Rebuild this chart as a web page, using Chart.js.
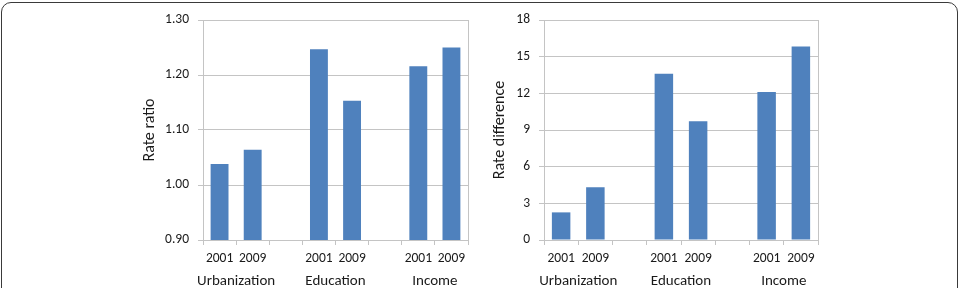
<!DOCTYPE html>
<html>
<head>
<meta charset="utf-8">
<script src="https://cdn.jsdelivr.net/npm/chart.js@4/dist/chart.umd.min.js"></script>
<style>
  html, body { margin: 0; padding: 0; background: #fff; width: 963px; height: 288px; overflow: hidden; }
  #frame { position: absolute; left: 1px; top: 2px; width: 957px; height: 320px; border: 1.5px solid #3a3a3a; border-radius: 10px; box-sizing: border-box; }
  .box { position: absolute; top: 0; width: 350px; height: 288px; }
  #b1 { left: 130px; }
  #b2 { left: 480px; }
</style>
</head>
<body>
<div id="frame"></div>
<div class="box" id="b1"><canvas id="c1" width="350" height="288"></canvas></div>
<div class="box" id="b2"><canvas id="c2" width="350" height="288"></canvas></div>
<script>
// ---- data ----
const yearLabels = ['2001', '2009', '', '2001', '2009', '', '2001', '2009'];
const groupNames = ['Urbanization', 'Education', 'Income'];
const groupCenters = [0.5, 3.5, 6.5];
const rateRatio = [1.038, 1.064, null, 1.247, 1.153, null, 1.216, 1.250];
const rateDifference = [2.26, 4.31, null, 13.6, 9.71, null, 12.11, 15.84];
const ratioTicks = { min: 0.90, max: 1.30, step: 0.10 };
const diffTicks = { min: 0, max: 18, step: 3 };

const FONT = 'Carlito, Lato, "Open Sans", sans-serif';
const BAR = '#4F81BD';
const GRID = '#c4c4c4';
const TXT = '#1a1a1a';

function makeChart(id, values, title, t, yWidth, decimals) {
  return new Chart(document.getElementById(id), {
    type: 'bar',
    data: {
      labels: yearLabels,
      datasets: [{ data: values, backgroundColor: BAR, barPercentage: 0.54, categoryPercentage: 1.0 }]
    },
    options: {
      responsive: false,
      animation: false,
      events: [],
      layout: { padding: { left: 2, right: 12, top: 20, bottom: 0 } },
      plugins: { legend: { display: false }, tooltip: { enabled: false } },
      scales: {
        x: {
          type: 'category',
          position: 'bottom',
          offset: true,
          grid: { display: true, drawOnChartArea: false, drawTicks: true, tickLength: 5, color: GRID, offset: true },
          border: { display: true, color: GRID, width: 1 },
          ticks: { color: TXT, font: { family: FONT, size: 13.5 }, padding: 6, maxRotation: 0, autoSkip: false },
          afterFit: s => { s.height = 28; }
        },
        x2: {
          type: 'linear',
          position: 'bottom',
          offset: false,
          bounds: 'data',
          min: -0.5, max: 7.5,
          grid: { display: false, drawTicks: false, offset: false },
          border: { display: false },
          afterBuildTicks: s => { s.ticks = groupCenters.map(v => ({ value: v })); },
          ticks: {
            color: TXT, font: { family: FONT, size: 15 }, padding: 4, maxRotation: 0, autoSkip: false,
            callback: (v) => groupNames[groupCenters.indexOf(v)]
          },
          afterFit: s => { s.height = 20; }
        },
        y: {
          position: 'left',
          min: t.min, max: t.max,
          afterBuildTicks: s => {
            const arr = [];
            for (let v = t.min; v <= t.max + 1e-9; v += t.step) arr.push({ value: Math.round(v * 1000) / 1000 });
            s.ticks = arr;
          },
          grid: { color: GRID, tickLength: 5, drawTicks: true },
          border: { display: true, color: GRID },
          ticks: { color: TXT, font: { family: FONT, size: 13.5 }, padding: 9,
                   callback: v => Number(v).toFixed(decimals) },
          title: { display: true, text: title, color: TXT, font: { family: FONT, size: 16 }, padding: { top: 8, bottom: 0 } },
          afterFit: s => { s.width = yWidth; }
        },
        y2: {
          position: 'right',
          min: t.min, max: t.max,
          grid: { display: false, drawTicks: false },
          border: { display: true, color: GRID },
          ticks: { display: false },
          afterFit: s => { s.width = 0; }
        }
      }
    }
  });
}

makeChart('c1', rateRatio, 'Rate ratio', ratioTicks, 71, 2);
makeChart('c2', rateDifference, 'Rate difference', diffTicks, 62, 0);
</script>
</body>
</html>
